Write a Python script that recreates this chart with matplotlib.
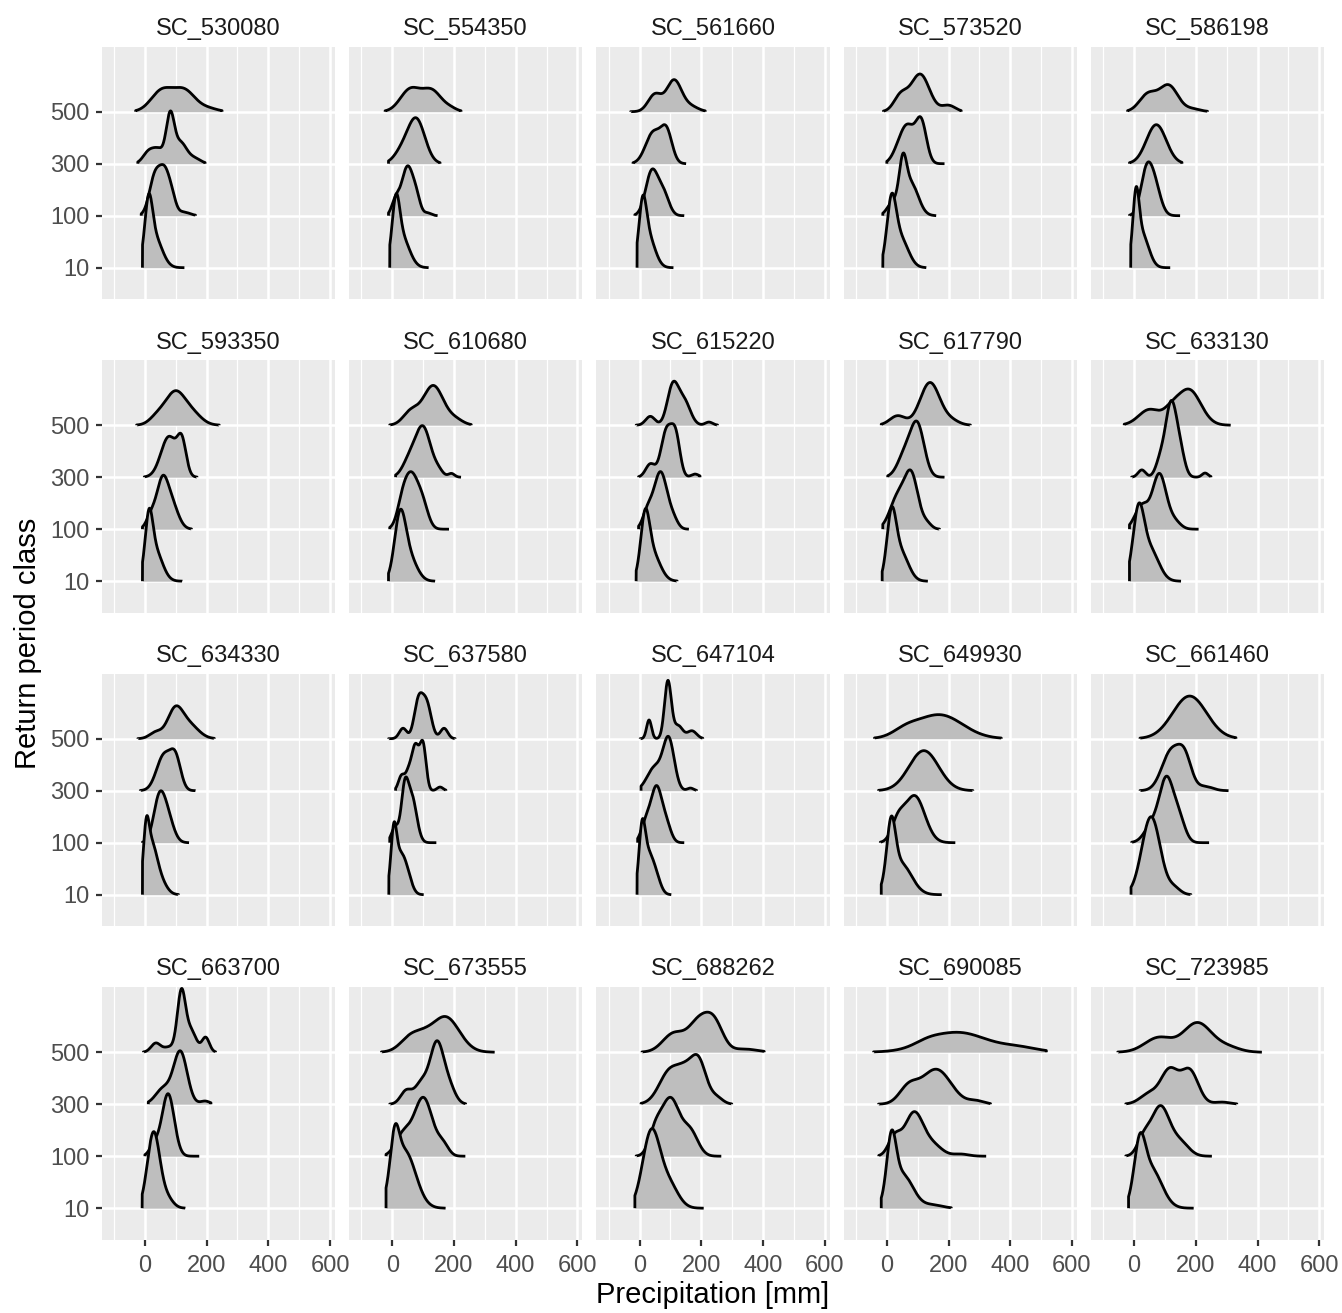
import numpy as np
import matplotlib
matplotlib.use('Agg')
import matplotlib.pyplot as plt

plt.rcParams['font.family'] = ['Liberation Sans', 'DejaVu Sans']

stations = ['SC_530080', 'SC_554350', 'SC_561660', 'SC_573520', 'SC_586198',
            'SC_593350', 'SC_610680', 'SC_615220', 'SC_617790', 'SC_633130',
            'SC_634330', 'SC_637580', 'SC_647104', 'SC_649930', 'SC_661460',
            'SC_663700', 'SC_673555', 'SC_688262', 'SC_690085', 'SC_723985']
classes = ['10', '100', '300', '500']

# each ridge: (min mm, max mm, modes as (precip mm, height, spread mm))
ridges_500 = [
    (-30, 250, [(55, .40, 35), (128, .40, 35), (205, .06, 30)]),
    (-23, 223, [(58, .42, 32), (128, .40, 32), (190, .05, 20)]),
    (-29, 213, [(50, .33, 22), (112, .60, 24), (165, .10, 25)]),
    (-11, 241, [(45, .30, 22), (108, .72, 30), (200, .12, 22)]),
    (-21, 238, [(45, .33, 28), (112, .50, 30), (190, .05, 25)]),
    (-27, 241, [(40, .15, 25), (98, .62, 32), (155, .20, 30)]),
    (-8, 256, [(60, .25, 25), (133, .76, 33), (205, .10, 25)]),
    (-11, 253, [(35, .17, 15), (108, .75, 18), (145, .45, 20), (225, .06, 12)]),
    (-18, 271, [(35, .18, 25), (140, .82, 32), (210, .08, 25)]),
    (-32, 313, [(50, .30, 35), (120, .20, 25), (178, .68, 38)]),
    (-23, 225, [(35, .12, 20), (98, .55, 25), (145, .25, 30)]),
    (-12, 204, [(35, .20, 12), (85, .70, 14), (112, .65, 15), (168, .20, 12)]),
    (2, 205, [(31, .36, 8), (92, 1.10, 11), (125, .25, 15), (170, .15, 15)]),
    (-40, 371, [(60, .12, 40), (170, .46, 75)]),
    (19, 330, [(180, .82, 55)]),
    (-5, 229, [(35, .17, 15), (80, .10, 20), (118, 1.10, 13), (148, .42, 18), (197, .28, 12)]),
    (-35, 332, [(65, .32, 35), (110, .08, 25), (172, .68, 45)]),
    (8, 404, [(110, .35, 35), (195, .60, 35), (245, .45, 28), (340, .06, 40)]),
    (-43, 517, [(130, .06, 40), (230, .38, 95), (430, .08, 60)]),
    (-53, 414, [(80, .28, 45), (205, .56, 45), (300, .10, 40)]),
]

ridges_300 = [
    (-23, 195, [(12, .22, 18), (45, .25, 18), (82, .88, 13), (115, .40, 20), (160, .10, 20)]),
    (-12, 155, [(78, .85, 28), (30, .20, 25)]),
    (-21, 151, [(45, .60, 25), (88, .58, 18)]),
    (0, 187, [(35, .15, 20), (68, .70, 24), (112, .75, 17)]),
    (-15, 155, [(72, .75, 32)]),
    (-2, 169, [(78, .78, 26), (120, .60, 14)]),
    (11, 223, [(55, .30, 22), (100, .95, 25), (150, .10, 15), (192, .07, 10)]),
    (-3, 196, [(35, .25, 15), (88, .90, 18), (118, .70, 14), (180, .06, 12)]),
    (3, 187, [(60, .45, 24), (100, .95, 22)]),
    (-8, 249, [(25, .14, 12), (85, .30, 15), (120, 1.40, 18), (150, .40, 15), (230, .08, 10)]),
    (-15, 164, [(62, .68, 24), (100, .55, 17)]),
    (11, 174, [(30, .28, 10), (52, .30, 10), (75, .85, 12), (100, .85, 10), (155, .07, 10)]),
    (5, 185, [(50, .45, 25), (95, .95, 18), (165, .05, 10)]),
    (-27, 279, [(120, .77, 48)]),
    (19, 306, [(120, .75, 30), (165, .55, 22), (230, .08, 25)]),
    (11, 214, [(60, .30, 25), (115, 1.00, 22), (195, .06, 15)]),
    (-8, 238, [(45, .25, 18), (95, .40, 22), (145, 1.15, 22), (185, .30, 20)]),
    (5, 299, [(100, .65, 35), (150, .40, 25), (192, .80, 25), (250, .12, 20)]),
    (-27, 336, [(70, .30, 30), (160, .67, 48), (290, .06, 25)]),
    (-27, 333, [(50, .20, 30), (115, .64, 28), (180, .64, 28), (285, .04, 25)]),
]

ridges_100 = [
    (-12, 164, [(32, .72, 18), (66, .80, 18), (90, .15, 12), (125, .07, 20)]),
    (-12, 147, [(50, .95, 20), (10, .25, 12), (80, .20, 12), (115, .05, 12)]),
    (-15, 145, [(40, .85, 20), (78, .40, 18)]),
    (-13, 160, [(20, .25, 18), (52, .80, 12), (78, .62, 24)]),
    (-15, 149, [(38, .72, 18), (65, .60, 20)]),
    (-8, 151, [(20, .25, 15), (55, .80, 18), (85, .50, 22)]),
    (-8, 184, [(30, .20, 15), (60, 1.05, 25), (100, .35, 18)]),
    (-3, 160, [(25, .30, 15), (68, 1.10, 22), (110, .15, 15)]),
    (-13, 171, [(35, .60, 25), (80, 1.00, 22), (130, .10, 15)]),
    (-15, 209, [(25, .45, 22), (82, 1.05, 22), (130, .15, 20)]),
    (-8, 143, [(45, .75, 18), (72, .50, 20)]),
    (-8, 143, [(10, .30, 12), (40, .88, 11), (63, .88, 16)]),
    (-6, 145, [(20, .35, 15), (55, 1.05, 18), (88, .30, 15)]),
    (-21, 222, [(35, .35, 20), (90, .90, 33)]),
    (-8, 243, [(60, .35, 25), (105, 1.15, 22), (145, .45, 20)]),
    (0, 176, [(30, .20, 15), (75, 1.20, 20)]),
    (-20, 237, [(35, .40, 25), (101, 1.12, 30), (165, .20, 18)]),
    (-11, 265, [(50, .40, 20), (100, 1.10, 30), (165, .45, 25)]),
    (-26, 322, [(25, .35, 20), (88, .83, 30), (150, .20, 30), (240, .04, 25)]),
    (-27, 252, [(30, .30, 20), (85, .95, 30), (150, .25, 28)]),
]

ridges_10 = [
    (-8, 128, [(12, .95, 12), (30, .60, 25)]),
    (-8, 118, [(12, .95, 12), (30, .60, 25)]),
    (-8, 110, [(10, .95, 12), (28, .60, 22)]),
    (-13, 128, [(15, 1.15, 15), (45, .55, 25)]),
    (-11, 117, [(6, 1.10, 10), (25, .65, 22)]),
    (-8, 121, [(13, .95, 12), (32, .60, 24)]),
    (-12, 139, [(25, 1.15, 18), (55, .45, 25)]),
    (-11, 122, [(18, 1.00, 14), (40, .55, 26)]),
    (-15, 133, [(15, 1.15, 15), (45, .55, 25)]),
    (-15, 152, [(14, 1.25, 18), (52, .60, 28)]),
    (-8, 109, [(4, .85, 9), (20, .90, 18), (50, .25, 20)]),
    (-11, 102, [(5, .90, 9), (24, .75, 20), (50, .20, 15)]),
    (-8, 103, [(8, 1.00, 10), (27, .75, 18), (55, .25, 15)]),
    (-18, 178, [(14, 1.10, 14), (45, .60, 35)]),
    (-10, 184, [(55, 1.50, 30), (130, .12, 20)]),
    (-9, 131, [(28, 1.45, 20), (70, .20, 20)]),
    (-20, 173, [(8, .85, 14), (40, 1.10, 36)]),
    (-15, 208, [(38, 1.45, 28), (95, .45, 30)]),
    (-18, 209, [(15, 1.10, 15), (50, .65, 35), (150, .06, 30)]),
    (-18, 193, [(18, 1.00, 18), (55, .75, 35)]),
]

all_ridges = [ridges_10, ridges_100, ridges_300, ridges_500]


def ridge_curve(lo, hi, modes):
    x = np.linspace(lo, hi, 400)
    h = np.zeros_like(x)
    for c, a, s in modes:
        h += a * np.exp(-0.5 * ((x - c) / s) ** 2)
    return x, h


W, H = 1342, 1313
fig = plt.figure(figsize=(W / 100, H / 100), dpi=100)

left0, top0 = 101.7, 46.7
pw, ph = 233.3, 252.6
dx, dy = 247.3, 313.5

for i, st in enumerate(stations):
    r, c = divmod(i, 5)
    l = left0 + c * dx
    t = top0 + r * dy
    ax = fig.add_axes([l / W, 1 - (t + ph) / H, pw / W, ph / H])
    ax.set_facecolor('#EBEBEB')
    ax.set_xlim(-140, 616)
    ax.set_ylim(0.392, 5.25)
    ax.set_xticks([0, 200, 400, 600])
    ax.set_xticks([-100, 100, 300, 500], minor=True)
    ax.set_yticks([1, 2, 3, 4])
    ax.set_yticklabels(classes)
    ax.grid(which='major', color='white', lw=1.8)
    ax.grid(which='minor', axis='x', color='white', lw=0.9)
    ax.set_axisbelow(True)
    for s in ax.spines.values():
        s.set_visible(False)
    ax.tick_params(which='minor', length=0)
    ax.tick_params(which='major', length=4, width=1.6, color='#333333',
                   labelsize=17, labelcolor='#4D4D4D')
    ax.tick_params(axis='y', pad=5)
    ax.tick_params(axis='x', pad=7)
    if c != 0:
        ax.tick_params(axis='y', length=0, labelleft=False)
    if r != 3:
        ax.tick_params(axis='x', length=0, labelbottom=False)

    # top ridge first so lower ridges overlap it
    for k in range(3, -1, -1):
        lo, hi, modes = all_ridges[k][i]
        base = k + 1
        x, h = ridge_curve(lo, hi, modes)
        z = 3 + (3 - k)
        ax.fill_between(x, base, base + h, color='#BEBEBE', lw=0, zorder=z)
        xs = np.concatenate([[lo], x, [hi]])
        ys = np.concatenate([[base], base + h, [base]])
        ax.plot(xs, ys, color='black', lw=2.0, zorder=z, solid_joinstyle='round',
                solid_capstyle='butt')

    ax.text(0.5, 1 + 11.7 / ph, st, transform=ax.transAxes, ha='center',
            va='baseline', fontsize=17, color='#1A1A1A')

fig.text(713 / W, 1 - 1303 / H, 'Precipitation [mm]', ha='center',
         va='baseline', fontsize=21)
fig.text(28 / W, 1 - 643 / H, 'Return period class', ha='center',
         va='center', rotation=90, fontsize=21)

plt.savefig('out.png', dpi=100)
